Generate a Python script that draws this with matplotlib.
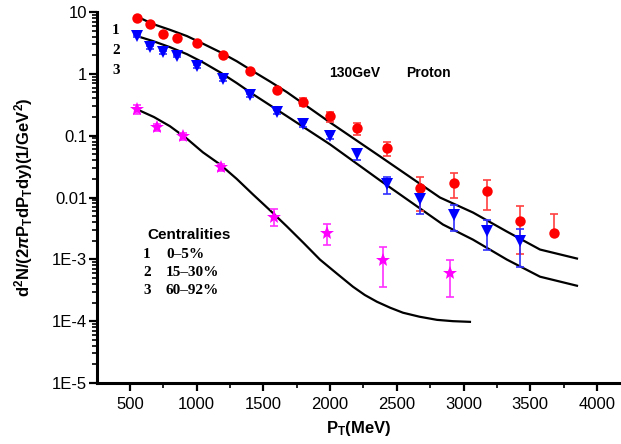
import matplotlib
matplotlib.use("Agg")
import matplotlib.pyplot as plt
from matplotlib.ticker import LogLocator, FixedLocator, NullFormatter, MultipleLocator
import numpy as np

plt.rcParams['font.family'] = ['Liberation Sans', 'DejaVu Sans']
plt.rcParams['mathtext.fontset'] = 'custom'
plt.rcParams['mathtext.rm'] = 'Liberation Sans:bold'
plt.rcParams['mathtext.bf'] = 'Liberation Sans:bold'
plt.rcParams['mathtext.it'] = 'Liberation Sans:bold:italic'

# ---- data ----
pt1 = [550, 650, 750, 850, 1000, 1200, 1400, 1600, 1800, 2000, 2200, 2425, 2675, 2925, 3175, 3425, 3675]
y1 = [8.0, 6.4, 4.4, 3.8, 3.15, 2.0, 1.1, 0.545, 0.35, 0.206, 0.132, 0.0625, 0.0141, 0.0169, 0.0126, 0.0041, 0.00262]
e1_lo = [0.3, 0.3, 0.2, 0.2, 0.15, 0.1, 0.06, 0.04, 0.05, 0.04, 0.028, 0.016, 0.008, 0.0069, 0.0064, 0.0029, 0.0]
e1_hi = [0.3, 0.3, 0.2, 0.2, 0.15, 0.1, 0.06, 0.04, 0.05, 0.035, 0.028, 0.016, 0.007, 0.0077, 0.0063, 0.0031, 0.0027]

pt2 = [550, 650, 750, 850, 1000, 1200, 1400, 1600, 1800, 2000, 2200, 2425, 2675, 2925, 3175, 3425]
y2 = [4.1, 2.7, 2.25, 1.94, 1.33, 0.82, 0.45, 0.24, 0.153, 0.098, 0.050, 0.0163, 0.0093, 0.0053, 0.0029, 0.00195]
e2 = [0.2, 0.15, 0.12, 0.1, 0.07, 0.05, 0.03, 0.02, 0.015, 0.01, 0.009, 0.005, 0.0038, 0.0024, 0.0015, 0.0012]

pt3 = [550, 700, 900, 1180, 1580, 1980, 2400, 2900]
y3 = [0.268, 0.137, 0.098, 0.0308, 0.0049, 0.0027, 0.00096, 0.00061]
e3 = [0.04, 0.02, 0.013, 0.0035, 0.0015, 0.001, 0.0006, 0.00036]

fit1_x = [560, 672, 800, 927, 1050, 1175, 1300, 1422, 1550, 1677, 1999, 2374, 2823, 3071, 3325, 3573, 3850]
fit1_y = [8.30, 6.39, 5.15, 4.08, 3.05, 2.25, 1.60, 1.10, 0.75, 0.504, 0.164, 0.0462, 0.0100, 0.00571, 0.00281, 0.00144, 0.00103]
fit2_x = [552, 672, 800, 927, 1050, 1175, 1300, 1422, 1550, 1677, 1999, 2374, 2846, 3071, 3325, 3573, 3850]
fit2_y = [4.08, 3.39, 2.70, 2.08, 1.52, 1.06, 0.71, 0.468, 0.31, 0.206, 0.0724, 0.0189, 0.00365, 0.00208, 0.00099, 0.000524, 0.000374]
fit3_x = [552, 680, 800, 925, 1047, 1175, 1300, 1422, 1550, 1677, 1800, 1924, 2050, 2171, 2260, 2351, 2450, 2546, 2670, 2801, 2920, 3048]
fit3_y = [0.267, 0.20, 0.142, 0.090, 0.0537, 0.0343, 0.0200, 0.0112, 0.0062, 0.00339, 0.00185, 0.00099, 0.00059, 0.000361, 0.000265, 0.000206, 0.000165, 0.000137, 0.000118, 0.000105, 0.000100, 0.0000975]

ytick_vals = [1e-5, 1e-4, 1e-3, 1e-2, 1e-1, 1, 10]
ytick_labels = ['1E-5', '1E-4', '1E-3', '0.01', '0.1', '1', '10']
xtick_vals = [500, 1000, 1500, 2000, 2500, 3000, 3500, 4000]
cent_ids = ['1', '2', '3']
cent_ranges = ['0–5%', '15–30%', '60–92%']

# ---- figure ----
fig = plt.figure(figsize=(6.21, 4.44), dpi=100)
ax = fig.add_axes([97/621, 1-383/444, 524/621, (383-12)/444])

for fx, fy in [(fit1_x, fit1_y), (fit2_x, fit2_y), (fit3_x, fit3_y)]:
    ax.plot(fx, fy, color='black', lw=1.6, zorder=2, solid_joinstyle='round')

def series(x, y, lo, hi, color, ecolor, marker, ms):
    ax.errorbar(x, y, yerr=[lo, hi], fmt='none', ecolor=ecolor, elinewidth=1.2,
                capsize=3, capthick=1.2, zorder=3)
    ax.plot(x, y, linestyle='none', marker=marker, color=color, markersize=ms,
            markeredgewidth=0, zorder=4)

series(pt1, y1, e1_lo, e1_hi, '#ff0000', '#ff4040', 'o', 7.5)
series(pt2, y2, e2, e2, '#0000ff', '#3030ff', 'v', 8.5)
series(pt3, y3, e3, e3, '#ff00ff', '#ff30ff', '*', 10)

ax.set_yscale('log')
ax.set_ylim(1e-5, 10)
ax.set_xlim(253, 4180)
ax.yaxis.set_major_locator(FixedLocator(ytick_vals))
ax.set_yticklabels(ytick_labels)
ax.yaxis.set_minor_locator(LogLocator(base=10, subs=np.arange(2, 10), numticks=20))
ax.yaxis.set_minor_formatter(NullFormatter())
ax.set_xticks(xtick_vals)
ax.set_xticklabels([str(v) for v in xtick_vals])
ax.xaxis.set_minor_locator(MultipleLocator(250))

for s in ['top', 'right']:
    ax.spines[s].set_visible(False)
for s in ['left', 'bottom']:
    ax.spines[s].set_linewidth(2.2)

ax.tick_params(axis='both', which='major', direction='out', length=6, width=1.6,
               labelsize=12, pad=1)
ax.tick_params(axis='both', which='minor', direction='out', length=3.5, width=1.2)
ax.tick_params(axis='x', which='major', pad=4)

ax.set_xlabel(r'P$_{\mathrm{T}}$(MeV)', fontsize=12, fontweight='bold', labelpad=5)
ax.set_ylabel(r'd$^{\mathrm{2}}$N/(2$\mathit{\pi}$P$_{\mathrm{T}}$dP$_{\mathrm{T}}$dy)(1/GeV$^{\mathrm{2}}$)',
              fontsize=12, fontweight='bold', labelpad=12)

# annotations (figure pixel coords)
def ftext(px, py, s, **kw):
    fig.text(px/621, 1-py/444, s, **kw)

ftext(329, 73, '130GeV', fontsize=10, fontweight='bold', va='center', ha='left')
ftext(406, 73, 'Proton', fontsize=10, fontweight='bold', va='center', ha='left')
for i, cid in enumerate(cent_ids):
    ftext(112, 30 + 20*i, cid, fontsize=11, fontweight='bold', va='center', ha='left',
          family='Liberation Serif')
ftext(147, 235, 'Centralities', fontsize=11, fontweight='bold', va='center', ha='left')
for i, (cid, cr) in enumerate(zip(cent_ids, cent_ranges)):
    ftext(143, 254 + 18.5*i, cid, fontsize=11, fontweight='bold', va='center', ha='left',
          family='Liberation Serif')
    ftext(166, 254 + 18.5*i, cr, fontsize=11, fontweight='bold', va='center', ha='left',
          family='Liberation Serif')

fig.savefig('out.png', dpi=100)
